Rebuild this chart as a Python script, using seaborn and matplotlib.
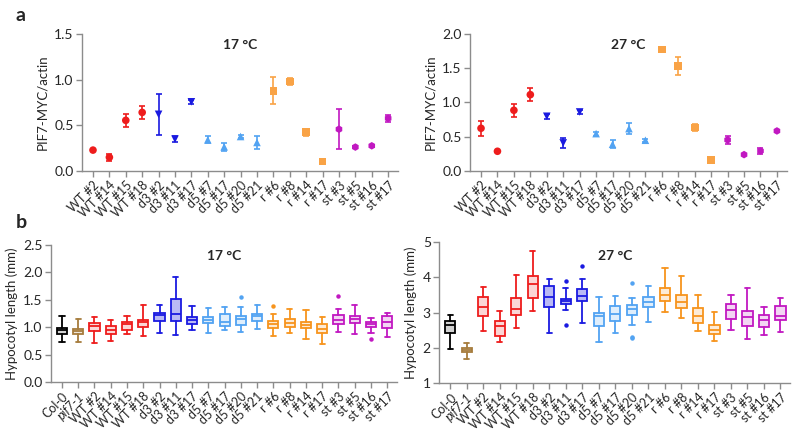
import matplotlib
matplotlib.use("Agg")
import matplotlib.pyplot as plt
from matplotlib.ticker import FormatStrFormatter
import seaborn as sns
import pandas as pd

sns.set_theme(style="white")
plt.rcParams["font.family"] = ["Lato", "DejaVu Sans"]

# ── Data: PIF7-MYC/actin (mean ± error) ──────────────────────
LINES = ["WT #2", "WT #14", "WT #15", "WT #18", "d3 #2", "d3 #11", "d3 #17",
         "d5 #7", "d5 #17", "d5 #20", "d5 #21", "r #6", "r #8", "r #14", "r #17",
         "st #3", "st #5", "st #16", "st #17"]
GROUPS = ["WT"] * 4 + ["d3"] * 3 + ["d5"] * 4 + ["r"] * 4 + ["st"] * 4

pif_17 = [0.228, 0.149, 0.554, 0.641, 0.62, 0.348, 0.757, 0.34, 0.264, 0.377,
          0.312, 0.877, 0.978, 0.424, 0.105, 0.457, 0.261, 0.275, 0.576]
pif_17_err = [0.01, 0.035, 0.072, 0.069, 0.228, 0.033, 0.02, 0.038, 0.043, 0.02,
              0.07, 0.149, 0.04, 0.037, 0.01, 0.221, 0.01, 0.01, 0.038]
pif_27 = [0.623, 0.287, 0.886, 1.114, 0.798, 0.409, 0.861, 0.545, 0.389, 0.618,
          0.448, 1.776, 1.533, 0.637, 0.16, 0.453, 0.238, 0.292, 0.584]
pif_27_err = [0.11, 0.01, 0.095, 0.097, 0.04, 0.07, 0.03, 0.03, 0.06, 0.085,
              0.025, 0.03, 0.13, 0.055, 0.01, 0.06, 0.01, 0.044, 0.01]

# ── Data: hypocotyl length box summaries ─────────────────────
BOX_LINES = ["Col-0", "pif7-1"] + LINES
BOX_GROUPS = ["Col", "pif"] + GROUPS

hyp17_lo = [0.722, 0.734, 0.71, 0.74, 0.88, 0.831, 0.898, 0.85, 0.947, 0.892, 0.953,
            0.904, 0.959, 0.843, 0.892, 0.789, 0.686, 0.91, 0.874, 0.898, 0.813]
hyp17_q1 = [0.874, 0.88, 0.934, 0.874, 0.953, 1.0, 1.11, 1.104, 1.062, 1.068, 1.025,
            1.044, 1.11, 0.983, 0.995, 0.977, 0.886, 1.056, 1.074, 0.995, 0.989]
hyp17_med = [0.94, 0.934, 1.02, 0.953, 1.056, 1.086, 1.226, 1.238, 1.129, 1.129, 1.086,
             1.153, 1.195, 1.056, 1.074, 1.044, 0.965, 1.135, 1.147, 1.056, 1.092]
hyp17_q3 = [0.99, 0.971, 1.074, 1.025, 1.092, 1.14, 1.262, 1.523, 1.183, 1.177, 1.238,
            1.208, 1.244, 1.11, 1.153, 1.092, 1.05, 1.214, 1.208, 1.092, 1.195]
hyp17_hi = [1.2, 1.153, 1.177, 1.129, 1.207, 1.408, 1.396, 1.924, 1.383, 1.353, 1.371,
            1.377, 1.414, 1.232, 1.329, 1.317, 1.177, 1.335, 1.408, 1.165, 1.262]
hyp17_fliers = {"d5 #20": [1.553], "r #6": [1.383], "st #3": [1.578], "st #16": [0.777]}

hyp27_lo = [1.976, 1.692, 2.469, 2.166, 2.573, 3.057, 2.431, 3.066, 2.716, 2.156, 2.422,
            2.649, 2.744, 3.009, 2.848, 2.479, 2.185, 2.517, 2.251, 2.365, 2.46]
hyp27_q1 = [2.431, 1.882, 2.915, 2.336, 2.924, 3.427, 3.161, 3.246, 3.322, 2.63, 2.773,
            2.924, 3.161, 3.332, 3.133, 2.697, 2.403, 2.81, 2.611, 2.583, 2.801]
hyp27_med = [2.64, 1.948, 3.17, 2.621, 3.095, 3.806, 3.455, 3.332, 3.483, 2.896, 2.962,
             3.095, 3.303, 3.512, 3.294, 2.896, 2.507, 3.085, 2.886, 2.801, 2.905]
hyp27_q3 = [2.763, 2.005, 3.455, 2.754, 3.427, 4.043, 3.749, 3.398, 3.682, 3.0, 3.18,
            3.227, 3.455, 3.701, 3.502, 3.142, 2.64, 3.237, 3.038, 2.943, 3.19]
hyp27_hi = [2.924, 2.147, 3.72, 3.038, 4.071, 4.735, 3.957, 3.701, 3.957, 3.436, 3.464,
            3.427, 3.758, 4.28, 4.052, 3.502, 3.028, 3.512, 3.701, 3.152, 3.427]
hyp27_fliers = {"d3 #11": [3.9, 2.64], "d3 #17": [4.327], "d5 #20": [3.853, 2.31, 2.27]}

COLORS = {"Col": "#000000", "pif": "#A67C3D", "WT": "#EE1C1C", "d3": "#1A1AE0",
          "d5": "#52A3F2", "r": "#F7941D", "st": "#C118C1"}
DOT_COLORS = dict(COLORS, r="#F9A346")
MARKERS = {"WT": "o", "d3": "v", "d5": "^", "r": "s", "st": "h"}
FILL_ALPHA = {"d3": 0.3}
AXIS_GRAY = "#8c8c8c"

fig = plt.figure(figsize=(8, 4.36), dpi=100)
ax_a17 = fig.add_axes([0.1025, 0.608, 0.395, 0.314])
ax_a27 = fig.add_axes([0.5875, 0.608, 0.396, 0.314])
ax_b17 = fig.add_axes([0.0638, 0.124, 0.4325, 0.314])
ax_b27 = fig.add_axes([0.549, 0.1216, 0.439, 0.323])


def style_axes(ax, labels, ylabel, title, title_y):
    for side in ["top", "right"]:
        ax.spines[side].set_visible(False)
    for side in ["left", "bottom"]:
        ax.spines[side].set_color(AXIS_GRAY)
        ax.spines[side].set_linewidth(1.0)
    ax.tick_params(axis="both", bottom=True, left=True, direction="out", length=4,
                   width=1, color=AXIS_GRAY, pad=2)
    ax.tick_params(axis="y", labelsize=10)
    ax.set_xticks(range(len(labels)))
    ax.set_xticklabels(labels, rotation=45, ha="right", rotation_mode="anchor", fontsize=9)
    for tl in ax.get_xticklabels():
        if tl.get_text() == "pif7-1":
            tl.set_style("italic")
    ax.set_xlim(-0.67, len(labels) - 0.4)
    ax.set_xlabel("")
    ax.set_ylabel(ylabel, fontsize=9.5, labelpad=4)
    ax.text(0.5, title_y, title, transform=ax.transAxes, ha="center", va="center",
            fontsize=10, fontweight="bold")


# ── Panel a: dot + error bar ─────────────────────────────────
for ax, vals, errs, title, ymax in [(ax_a17, pif_17, pif_17_err, "17 °C", 1.5),
                                    (ax_a27, pif_27, pif_27_err, "27 °C", 2.0)]:
    df = pd.DataFrame({"line": LINES, "group": GROUPS, "value": vals, "err": errs})
    for i, row in df.iterrows():
        ax.errorbar(i, row["value"], yerr=row["err"], fmt="none",
                    ecolor=DOT_COLORS[row["group"]], elinewidth=1.2, capsize=2.5,
                    capthick=1.2, zorder=2)
    sns.scatterplot(data=df, x="line", y="value", hue="group", style="group",
                    palette=DOT_COLORS, markers=MARKERS, s=30, linewidth=0,
                    legend=False, ax=ax, zorder=3)
    ax.set_ylim(0, ymax)
    ax.set_yticks([v * 0.5 for v in range(int(ymax / 0.5) + 1)])
    ax.yaxis.set_major_formatter(FormatStrFormatter("%.1f"))
    style_axes(ax, LINES, "PIF7-MYC/actin", title, 0.92)

# ── Panel b: box plots ───────────────────────────────────────
for ax, lo, q1, med, q3, hi, fl, title, ylim, ticks, fmt, ty in [
        (ax_b17, hyp17_lo, hyp17_q1, hyp17_med, hyp17_q3, hyp17_hi, hyp17_fliers,
         "17 °C", (0, 2.5), [0, 0.5, 1.0, 1.5, 2.0, 2.5], "%.1f", 0.92),
        (ax_b27, hyp27_lo, hyp27_q1, hyp27_med, hyp27_q3, hyp27_hi, hyp27_fliers,
         "27 °C", (1, 5), [1, 2, 3, 4, 5], "%d", 0.90)]:
    for i, (name, grp) in enumerate(zip(BOX_LINES, BOX_GROUPS)):
        c = COLORS[grp]
        stats = [{"whislo": lo[i], "q1": q1[i], "med": med[i], "q3": q3[i],
                  "whishi": hi[i], "fliers": fl.get(name, [])}]
        ax.bxp(stats, positions=[i], widths=0.62, patch_artist=True,
               showfliers=True, manage_ticks=False,
               boxprops=dict(facecolor=matplotlib.colors.to_rgba(c, FILL_ALPHA.get(grp, 0.18)),
                             edgecolor=c, linewidth=1.3),
               medianprops=dict(color=c, linewidth=1.3),
               whiskerprops=dict(color=c, linewidth=1.3),
               capprops=dict(color=c, linewidth=1.3),
               capwidths=0.32,
               flierprops=dict(marker="o", markersize=2.2, markerfacecolor=c,
                               markeredgecolor=c, linestyle="none"))
    ax.set_ylim(*ylim)
    ax.set_yticks(ticks)
    ax.yaxis.set_major_formatter(FormatStrFormatter(fmt))
    style_axes(ax, BOX_LINES, "Hypocotyl length (mm)", title, ty)

fig.text(0.02, 0.965, "a", fontsize=14, fontweight="bold", va="center")
fig.text(0.02, 0.49, "b", fontsize=14, fontweight="bold", va="center")

fig.savefig("out.png", dpi=100)
